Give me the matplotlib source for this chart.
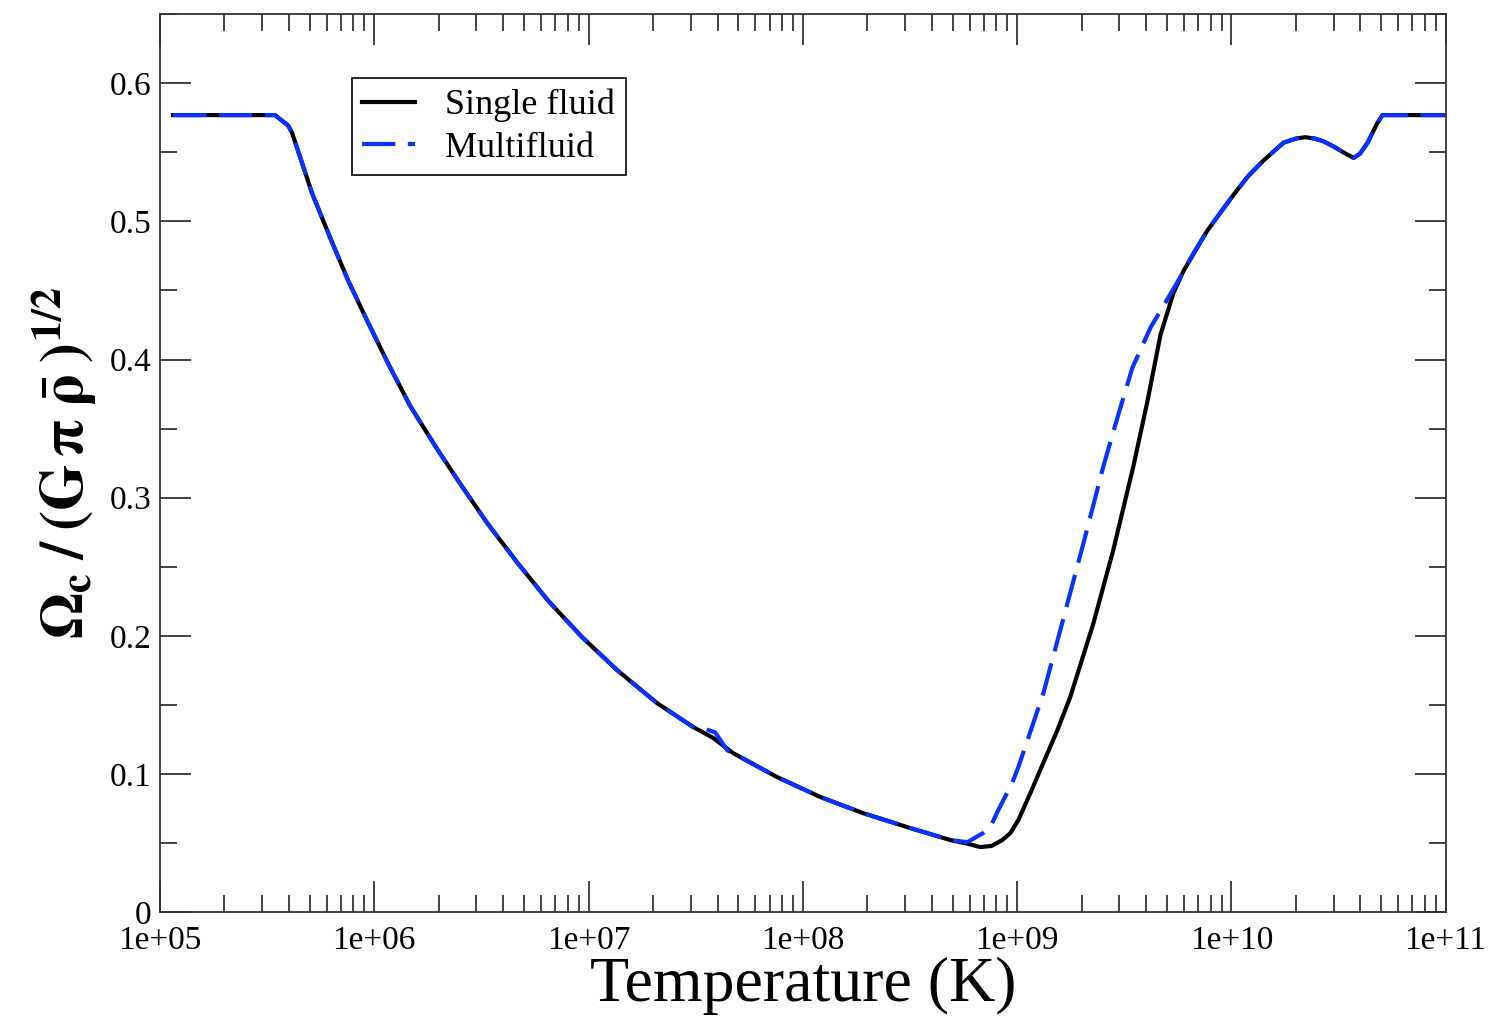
import numpy as np
import matplotlib
matplotlib.use('Agg')
import matplotlib.pyplot as plt
from matplotlib.ticker import FixedLocator, FuncFormatter, MultipleLocator

plt.rcParams['font.family'] = ['Liberation Serif', 'DejaVu Serif']
plt.rcParams['mathtext.fontset'] = 'stix'

# single fluid: temperature (K) and Omega_c / (G pi rho)^1/2
T_single = [1.15e5, 3.44e5, 3.96e5, 4.13e5, 5.13e5, 6.22e5, 7.55e5, 9.25e5,
            1.16e6, 1.47e6, 1.96e6, 2.52e6, 3.37e6, 4.65e6, 6.47e6, 9.33e6,
            1.36e7, 2.09e7, 3.08e7, 3.82e7, 4.73e7, 7.59e7, 1.21e8, 1.91e8,
            3.17e8, 4.88e8, 5.86e8, 6.73e8, 7.59e8, 8.51e8, 9.29e8, 1.014e9,
            1.153e9, 1.324e9, 1.542e9, 1.77e9, 2.27e9, 2.81e9, 3.48e9, 4.06e9,
            4.67e9, 5.36e9, 5.97e9, 7.73e9, 1.02e10, 1.20e10, 1.41e10, 1.75e10,
            2.0e10, 2.21e10, 2.45e10, 2.69e10, 3.02e10, 3.33e10, 3.72e10,
            3.98e10, 4.32e10, 4.79e10, 5.07e10, 1.0e11]
om_single = [0.577, 0.577, 0.5695, 0.5644, 0.5203, 0.4884, 0.4573, 0.4284,
             0.3972, 0.3665, 0.3355, 0.3100, 0.2815, 0.2530, 0.2255, 0.1990,
             0.1751, 0.1512, 0.1339, 0.1260, 0.1150, 0.0977, 0.0832, 0.0716,
             0.0608, 0.0521, 0.0495, 0.0470, 0.0478, 0.0520, 0.0570, 0.0666,
             0.0861, 0.1078, 0.1317, 0.1556, 0.209, 0.262, 0.322, 0.370,
             0.418, 0.448, 0.464, 0.4935, 0.519, 0.533, 0.544, 0.557,
             0.560, 0.561, 0.560, 0.558, 0.554, 0.550, 0.546,
             0.549, 0.557, 0.571, 0.577, 0.577]

# multifluid
T_multi = [1.15e5, 3.44e5, 3.96e5, 4.13e5, 5.13e5, 6.22e5, 7.55e5, 9.25e5,
           1.16e6, 1.47e6, 1.96e6, 2.52e6, 3.37e6, 4.65e6, 6.47e6, 9.33e6,
           1.36e7, 2.09e7, 3.08e7, 3.43e7, 3.90e7, 4.44e7, 4.73e7, 7.59e7,
           1.21e8, 1.91e8, 3.17e8, 4.88e8, 5.86e8, 6.95e8, 7.50e8, 8.17e8,
           9.48e8, 1.014e9, 1.127e9, 1.324e9, 1.59e9, 2.04e9, 2.52e9, 2.94e9,
           3.45e9, 4.19e9, 5.60e9, 6.65e9, 7.73e9, 1.02e10, 1.20e10, 1.41e10,
           1.75e10, 2.0e10, 2.21e10, 2.45e10, 2.69e10, 3.02e10, 3.33e10,
           3.72e10, 3.98e10, 4.32e10, 4.79e10, 5.07e10, 1.0e11]
om_multi = [0.577, 0.577, 0.5695, 0.5644, 0.5203, 0.4884, 0.4573, 0.4284,
            0.3972, 0.3665, 0.3355, 0.3100, 0.2815, 0.2530, 0.2255, 0.1990,
            0.1751, 0.1512, 0.1339, 0.133, 0.130, 0.117, 0.1150, 0.0977,
            0.0832, 0.0716, 0.0608, 0.0521, 0.0506, 0.0572, 0.0615, 0.0738,
            0.0933, 0.105, 0.126, 0.158, 0.204, 0.267, 0.322, 0.358,
            0.394, 0.423, 0.456, 0.477, 0.4935, 0.519, 0.533, 0.544,
            0.557, 0.560, 0.561, 0.560, 0.558, 0.554, 0.550,
            0.546, 0.549, 0.557, 0.571, 0.577, 0.577]

fig = plt.figure(figsize=(14.95, 10.19), dpi=100)
ax = fig.add_axes([0.107, 0.105, 0.86, 0.881])

ax.plot(T_single, om_single, color='black', lw=3, label='Single fluid')
ax.plot(T_multi, om_multi, color='#0a32ff', lw=3, dashes=(8, 3), label='Multifluid')

ax.set_xscale('log')
ax.set_xlim(1e5, 1e11)
ax.set_ylim(0, 0.65)

ax.yaxis.set_major_locator(FixedLocator([0, 0.1, 0.2, 0.3, 0.4, 0.5, 0.6]))
ax.yaxis.set_minor_locator(MultipleLocator(0.05))
ax.yaxis.set_major_formatter(FuncFormatter(lambda v, p: '0' if abs(v) < 1e-9 else '%.1f' % v))
ax.xaxis.set_major_formatter(FuncFormatter(lambda v, p: '1e+%02d' % round(np.log10(v))))

ax.tick_params(which='both', direction='in', top=True, right=True, width=1.3, color='#333333')
ax.tick_params(which='major', length=22, labelsize=24, pad=6)
ax.tick_params(which='minor', length=12)
ax.tick_params(axis='x', which='major', pad=10)
for s in ax.spines.values():
    s.set_linewidth(1.3)
    s.set_color('#333333')

ax.set_xlabel('Temperature (K)', fontsize=46, labelpad=0)
ax.set_ylabel(r'$\mathbf{\Omega_c\; /\; (G\,\pi\;\bar{\rho}\;)^{1/2}}$', fontsize=43, labelpad=8)

leg = ax.legend(loc='upper left', bbox_to_anchor=(0.149, 0.929), fontsize=26,
                frameon=True, fancybox=False, edgecolor='black', framealpha=1,
                handlelength=1.45, handletextpad=0.85, borderpad=0.3,
                labelspacing=0.25, borderaxespad=0)
leg.get_frame().set_linewidth(1.2)

fig.savefig('out.png', dpi=100)
